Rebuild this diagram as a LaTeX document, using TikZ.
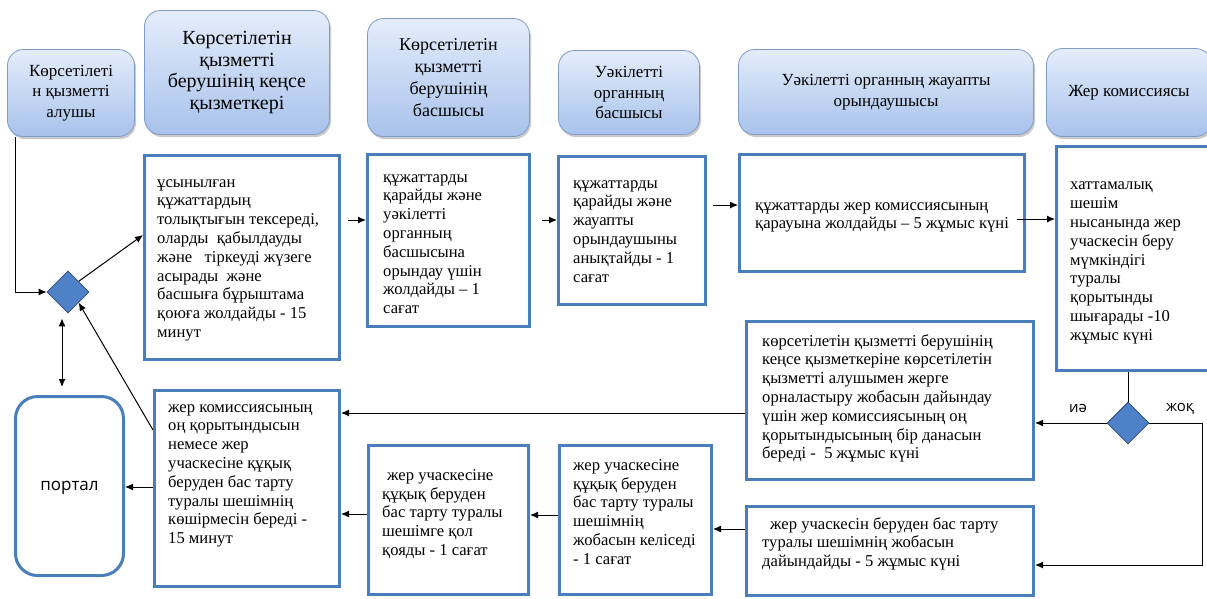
\documentclass[tikz,border=0pt]{standalone}
\usepackage{fontspec}
\setmainfont{Liberation Serif}
\newfontfamily\serf{Liberation Serif}
\newfontfamily\sansf{Open Sans}
\usetikzlibrary{arrows.meta,shapes.geometric,shadows}
\definecolor{boxblue}{HTML}{4A7EBB}
\definecolor{hdtop}{HTML}{E4EDFB}
\definecolor{hdbot}{HTML}{A8C2EC}
\definecolor{hdline}{HTML}{7F9BC8}
\definecolor{dfill}{HTML}{4F81C8}
\definecolor{dline}{HTML}{2E4E80}
\begin{document}
\begin{tikzpicture}[x=1pt,y=-1pt,
  hdr/.style={draw=hdline, line width=0.8pt, rounded corners=16pt,
    top color=hdtop, bottom color=hdbot, align=center, inner sep=2pt,
    font=\serf\fontsize{17}{20.5}\selectfont,
    drop shadow={shadow xshift=1.5pt, shadow yshift=-2.5pt, opacity=0.35, fill=black!60}},
  pbox/.style={draw=boxblue, line width=3pt, fill=white, inner sep=0pt},
  ptext/.style={align=left, inner sep=0pt, anchor=north west,
    font=\serf\fontsize{16.6}{18.8}\selectfont, execute at begin node=\strut},
  dia/.style={diamond, draw=dline, line width=0.8pt, fill=dfill, inner sep=0pt,
    minimum width=42pt, minimum height=42pt},
  lbl/.style={font=\sansf\fontsize{15}{18}\selectfont, inner sep=0pt},
  arr/.style={-{Latex[length=8pt,width=7pt]}, line width=1pt},
  darr/.style={{Latex[length=8pt,width=7pt]}-{Latex[length=8pt,width=7pt]}, line width=1pt}
]
\useasboundingbox (0,0) rectangle (1207,598);

% header lanes
\node[hdr, minimum width=127pt, minimum height=87pt] (h1) at (71,93)
  {Көрсетілеті\\н қызметті\\алушы};
\node[hdr, minimum width=185pt, minimum height=124pt, font=\serf\fontsize{20}{21.5}\selectfont] (h2) at (237,72.5)
  {Көрсетілетін\\қызметті\\берушінің кеңсе\\қызметкері};
\node[hdr, minimum width=162pt, minimum height=118pt, font=\serf\fontsize{18}{22}\selectfont] (h3) at (448.5,77.5)
  {Көрсетілетін\\қызметті\\берушінің\\басшысы};
\node[hdr, minimum width=141pt, minimum height=84pt] (h4) at (629,92.5)
  {Уәкілетті\\органның\\басшысы};
\node[hdr, minimum width=295pt, minimum height=85pt] (h5) at (886,92)
  {Уәкілетті органның жауапты\\орындаушысы};
\node[hdr, minimum width=165pt, minimum height=88pt] (h6) at (1129,92.5)
  {Жер комиссиясы};

% process boxes
\node[pbox, minimum width=195pt, minimum height=204pt] (A) at (242,257.5) {};
\node[pbox, minimum width=162pt, minimum height=172pt] (B) at (448.5,240.5) {};
\node[pbox, minimum width=147pt, minimum height=148pt] (C) at (632,230.5) {};
\node[pbox, minimum width=285pt, minimum height=117pt] (D) at (882,213) {};
\node[pbox, minimum width=154pt, minimum height=224pt] (E) at (1133.5,258.5) {};
\node[pbox, minimum width=287pt, minimum height=158pt] (F) at (890,400.5) {};
\node[pbox, minimum width=287pt, minimum height=89pt] (G) at (890,551) {};
\node[pbox, minimum width=152pt, minimum height=149pt] (H) at (635.5,520) {};
\node[pbox, minimum width=160pt, minimum height=149pt] (I) at (448.5,520) {};
\node[pbox, minimum width=185pt, minimum height=196pt] (J) at (247,488.5) {};
\node[pbox, rounded corners=22pt, minimum width=108pt, minimum height=179pt,
  font=\sansf\fontsize{17}{20}\selectfont] (portal) at (69.5,486) {\raisebox{-14pt}{портал}};

% texts
\node[ptext] (At) at (157,179) {ұсынылған\\құжаттардың\\толықтығын тексереді,\\оларды \ қабылдауды\\және \ \ тіркеуді жүзеге\\асырады \ және\\басшыға бұрыштама\\қоюға жолдайды - 15\\минут};
\node[ptext] (Bt) at (383,174) {құжаттарды\\қарайды және\\уәкілетті\\органның\\басшысына\\орындау үшін\\жолдайды – 1\\сағат};
\node[ptext] (Ct) at (573,180) {құжаттарды\\қарайды және\\жауапты\\орындаушыны\\анықтайды - 1\\сағат};
\node[ptext] (Dt) at (755,202) {құжаттарды жер комиссиясының\\қарауына жолдайды – 5 жұмыс күні};
\node[ptext] (Et) at (1070,182) {хаттамалық\\шешім\\нысанында жер\\учаскесін беру\\мүмкіндігі\\туралы\\қорытынды\\шығарады -10\\жұмыс күні};
\node[ptext] (Ft) at (762,334) {көрсетілетін қызметті берушінің\\кеңсе қызметкеріне көрсетілетін\\қызметті алушымен жерге\\орналастыру жобасын дайындау\\үшін жер комиссиясының оң\\қорытындысының бір данасын\\береді - \ 5 жұмыс күні};
\node[ptext] (Gt) at (762,517) {\hspace{8pt}жер учаскесін беруден бас тарту\\туралы шешімнің жобасын\\дайындайды - 5 жұмыс күні};
\node[ptext] (Ht) at (573,459) {жер учаскесіне\\құқық беруден\\бас тарту туралы\\шешімнің\\жобасын келіседі\\- 1 сағат};
\node[ptext] (It) at (382,469) {\hspace{5pt}жер учаскесіне\\құқық беруден\\бас тарту туралы\\шешімге қол\\қояды - 1 сағат};
\node[ptext] (Jt) at (168,404) {жер комиссиясының\\оң қорытындысын\\немесе жер\\учаскесіне құқық\\беруден бас тарту\\туралы шешімнің\\көшірмесін береді -\\15 минут};

% decisions
\node[dia] (d1) at (68,292) {};
\node[dia] (d2) at (1128,423) {};
\node[lbl] (yes) at (1078,408) {иә};
\node[lbl] (no) at (1180,409) {жоқ};

% connectors
\draw[arr] ([xshift=8pt]h1.south west) |- (d1.west);
\draw[arr] (d1.north east) -- (A.west |- 0,235);
\draw[darr] ([xshift=-6pt,yshift=-5pt]d1.south) -- ([xshift=-7.5pt,yshift=8pt]portal.north);
\draw[arr] (J.west |- 0,430) -- (d1.south east);
\draw[arr, shorten <=7pt] (A.east |- 0,220) -- (B.west |- 0,220);
\draw[arr, shorten <=11pt] (B.east |- 0,220) -- (C.west |- 0,220);
\draw[arr, shorten <=6pt] (C.east |- 0,205) -- (D.west |- 0,205);
\draw[arr, shorten <=-9pt] (D.east |- 0,219) -- (E.west |- 0,219);
\draw[line width=1pt] (E.south -| d2.north) -- (d2.north);
\draw[arr] (d2.west) -- (F.east |- d2.west);
\draw[arr] (d2.east) -- ++(53,0) |- (G.east |- 0,565);
\draw[arr] (F.west |- 0,413) -- (J.east |- 0,413);
\draw[arr] (G.west |- 0,529) -- (H.east |- 0,529);
\draw[arr] (H.west |- 0,515) -- (I.east |- 0,515);
\draw[arr] (I.west |- 0,514) -- (J.east |- 0,514);
\draw[arr] (J.west |- 0,487) -- (portal.east |- 0,487);
\end{tikzpicture}
\end{document}
